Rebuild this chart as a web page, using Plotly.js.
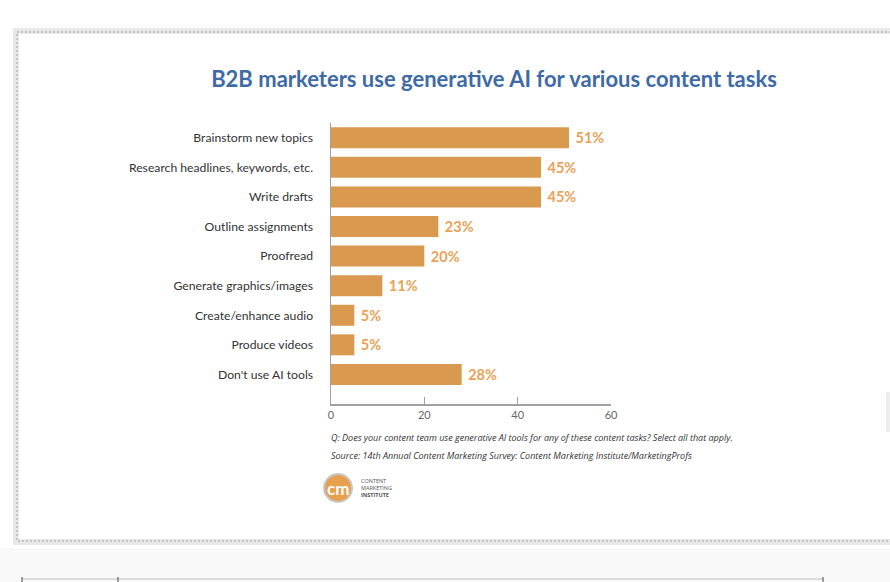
<!DOCTYPE html>
<html>
<head>
<meta charset="utf-8">
<script src="https://cdn.plot.ly/plotly-3.0.1.min.js"></script>
<style>
html,body{margin:0;padding:0;background:#ffffff;}
#chart{width:890px;height:582px;}
</style>
</head>
<body>
<div id="chart"></div>
<script>
// ---- data ----
const categories = [
  "Brainstorm new topics",
  "Research headlines, keywords, etc.",
  "Write drafts",
  "Outline assignments",
  "Proofread",
  "Generate graphics/images",
  "Create/enhance audio",
  "Produce videos",
  "Don't use AI tools"
];
const percentages = [51, 45, 45, 23, 20, 11, 5, 5, 28];
const valueLabels = ["51%", "45%", "45%", "23%", "20%", "11%", "5%", "5%", "28%"];
const xTickValues = [0, 20, 40, 60];
const titleText = "B2B marketers use generative AI for various content tasks";
const questionText = "Q: Does your content team use generative AI tools for any of these content tasks? Select all that apply.";
const sourceText = "Source: 14th Annual Content Marketing Survey: Content Marketing Institute/MarketingProfs";

// ---- layout geometry (pixels) ----
const W = 890, H = 582;
const L = 331, R = 611, T = 123, B = 404;
const px = x => (x - L) / (R - L);
const py = y => (B - y) / (B - T);

const barColor = "#d99a50";
const labelColor = "#e9a257";

const trace = {
  type: "bar",
  orientation: "h",
  y: categories,
  x: percentages,
  text: valueLabels.map(s => "\u00a0" + s),
  textposition: "outside",
  cliponaxis: false,
  textfont: {family: "Lato, 'Open Sans', sans-serif", size: 14.5, color: labelColor, weight: 700},
  marker: {color: barColor, line: {width: 0}},
  hoverinfo: "skip"
};

const shapes = [
  // lower grey strip
  {type: "rect", xref: "paper", yref: "paper", x0: px(0), x1: px(W), y0: py(548), y1: py(H), fillcolor: "#f9f9f9", line: {width: 0}, layer: "below"},
  {type: "line", xref: "paper", yref: "paper", x0: px(22), x1: px(823), y0: py(579), y1: py(579), line: {color: "#dcdcdc", width: 2}, layer: "below"},
  {type: "line", xref: "paper", yref: "paper", x0: px(22), x1: px(22), y0: py(577), y1: py(582), line: {color: "#444", width: 1}, layer: "below"},
  {type: "line", xref: "paper", yref: "paper", x0: px(118), x1: px(118), y0: py(577), y1: py(582), line: {color: "#444", width: 1}, layer: "below"},
  {type: "line", xref: "paper", yref: "paper", x0: px(823), x1: px(823), y0: py(577), y1: py(582), line: {color: "#444", width: 1}, layer: "below"},
  // frame outer band
  {type: "rect", xref: "paper", yref: "paper", x0: px(16), x1: px(900), y0: py(31), y1: py(542), fillcolor: "rgba(0,0,0,0)", line: {color: "#e8e8e8", width: 6}, layer: "below"},
  // frame dashed inner
  {type: "rect", xref: "paper", yref: "paper", x0: px(17), x1: px(900), y0: py(32), y1: py(541), fillcolor: "rgba(0,0,0,0)", line: {color: "#c4c4c4", width: 2, dash: "2px,2px"}, layer: "below"},
  // right-side shadow element
  {type: "rect", xref: "paper", yref: "paper", x0: px(886), x1: px(895), y0: py(392), y1: py(432), fillcolor: "#eeeeee", line: {width: 0}, layer: "below"},
  // logo
  {type: "circle", xref: "paper", yref: "paper", x0: px(324), x1: px(352), y0: py(474), y1: py(502), fillcolor: "#e6a04e", line: {color: "#c9c9c9", width: 2}}
];

const annotations = [
  {text: "<i>" + questionText + "</i>", xref: "paper", yref: "paper", x: px(329), y: py(437), xanchor: "left", yanchor: "middle", showarrow: false,
   font: {family: "'Open Sans', sans-serif", size: 9, color: "#333"}},
  {text: "<i>" + sourceText + "</i>", xref: "paper", yref: "paper", x: px(329), y: py(455), xanchor: "left", yanchor: "middle", showarrow: false,
   font: {family: "'Open Sans', sans-serif", size: 9, color: "#333"}},
  {text: "<b>cm</b>", xref: "paper", yref: "paper", x: px(338), y: py(488), xanchor: "center", yanchor: "middle", showarrow: false,
   font: {family: "Lato, sans-serif", size: 17, color: "#ffffff"}},
  {text: "CONTENT<br>MARKETING<br><b>INSTITUTE</b>", xref: "paper", yref: "paper", x: px(359), y: py(488), xanchor: "left", yanchor: "middle", showarrow: false,
   align: "left", font: {family: "'Open Sans', sans-serif", size: 5.5, color: "#555"}}
];

const layout = {
  width: W, height: H,
  margin: {l: L, r: W - R, t: T, b: H - B, pad: 0},
  paper_bgcolor: "#ffffff",
  plot_bgcolor: "rgba(0,0,0,0)",
  showlegend: false,
  bargap: 0.29,
  title: {
    text: "<b>" + titleText + "</b>",
    xref: "paper", x: px(494), xanchor: "center",
    yref: "container", y: 1 - 79 / H, yanchor: "middle",
    font: {family: "Lato, sans-serif", size: 22, color: "#3e6aa6"}
  },
  xaxis: {
    range: [0, 60],
    tickvals: xTickValues,
    ticks: "inside", ticklen: 7, tickcolor: "#a0a0a0", tickwidth: 1,
    showline: true, linecolor: "#a0a0a0", linewidth: 1.5,
    showgrid: false, zeroline: false,
    tickfont: {family: "Lato, sans-serif", size: 11, color: "#666"},
    fixedrange: true
  },
  yaxis: {
    type: "category",
    categoryorder: "array", categoryarray: categories,
    range: [9, -0.5],
    showline: true, linecolor: "#a0a0a0", linewidth: 1.5,
    ticks: "", ticklabelstandoff: 14,
    showgrid: false, zeroline: false,
    tickfont: {family: "Lato, sans-serif", size: 12.2, color: "#333"},
    fixedrange: true
  },
  shapes: shapes,
  annotations: annotations
};

Plotly.newPlot("chart", [trace], layout, {staticPlot: true, displayModeBar: false});
</script>
</body>
</html>
